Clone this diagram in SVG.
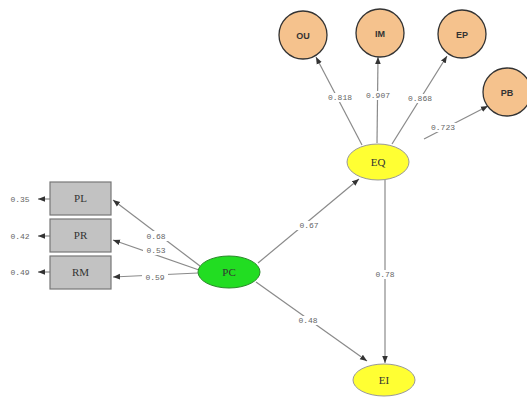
<svg xmlns="http://www.w3.org/2000/svg" width="527" height="397" viewBox="0 0 527 397">
<defs>
<marker id="ah" viewBox="0 0 10 10" refX="10" refY="5" markerWidth="7" markerHeight="7" markerUnits="userSpaceOnUse" orient="auto"><path d="M0,1 L10,5 L0,9 z" fill="#333"/></marker>
<style>
.c{stroke:#8a8a8a;stroke-width:1.2;fill:none;marker-end:url(#ah)}
.n{font-family:"Liberation Mono",monospace;font-size:8px;fill:#666;text-anchor:middle}
.lab{font-family:"Liberation Serif",serif;font-size:11px;fill:#333;text-anchor:middle}
.labs{font-family:"Liberation Sans",sans-serif;font-size:9px;fill:#333;text-anchor:middle;font-weight:bold}
.box{fill:#c2c2c2;stroke:#777;stroke-width:1.2}
.circ{fill:#f5c28d;stroke:#333;stroke-width:1.3}
.yel{fill:#ffff33;stroke:#999;stroke-width:1}
.grn{fill:#22dd22;stroke:#2a8a2a;stroke-width:1}
.bg{fill:#fff}
</style>
</defs>
<rect width="527" height="397" fill="#fff"/>
<g id="connectors">
<line class="c" x1="200" y1="266" x2="113" y2="200"/>
<line class="c" x1="199" y1="270" x2="113" y2="240"/>
<line class="c" x1="198" y1="273" x2="113" y2="277"/>
<line class="c" x1="50" y1="199" x2="38" y2="199"/>
<line class="c" x1="50" y1="236" x2="38" y2="236"/>
<line class="c" x1="50" y1="272" x2="38" y2="272"/>
<line class="c" x1="258" y1="263" x2="359" y2="179"/>
<line class="c" x1="256" y1="282" x2="367" y2="361"/>
<line class="c" x1="385" y1="180" x2="385" y2="363"/>
<line class="c" x1="362" y1="145" x2="316" y2="57"/>
<line class="c" x1="377" y1="143" x2="378" y2="57"/>
<line class="c" x1="392" y1="144" x2="447" y2="56"/>
<line class="c" x1="424" y1="139" x2="488" y2="106"/>
<text class="n" x="20" y="202">0.35</text>
<text class="n" x="20" y="239">0.42</text>
<text class="n" x="20" y="275">0.49</text>
<rect class="bg" x="143" y="231" width="26" height="10"/>
<text class="n" x="156" y="239">0.68</text>
<rect class="bg" x="143" y="246" width="26" height="9"/>
<text class="n" x="156" y="253">0.53</text>
<rect class="bg" x="142" y="273" width="26" height="9"/>
<text class="n" x="155" y="280">0.59</text>
<rect class="bg" x="296" y="221" width="26" height="9"/>
<text class="n" x="309" y="228">0.67</text>
<rect class="bg" x="295" y="316" width="26" height="9"/>
<text class="n" x="308" y="323">0.48</text>
<rect class="bg" x="372" y="270" width="26" height="9"/>
<text class="n" x="385" y="277">0.78</text>
<rect class="bg" x="325" y="93" width="30" height="9"/>
<text class="n" x="340" y="100">0.818</text>
<rect class="bg" x="363" y="91" width="30" height="9"/>
<text class="n" x="378" y="98">0.907</text>
<rect class="bg" x="405" y="94" width="30" height="9"/>
<text class="n" x="420" y="101">0.868</text>
<rect class="bg" x="428" y="123" width="30" height="9"/>
<text class="n" x="443" y="130">0.723</text>
</g>
<g id="PL"><rect class="box" x="50" y="182" width="61" height="33"/><text class="lab" x="80.5" y="202">PL</text></g>
<g id="PR"><rect class="box" x="50" y="219" width="61" height="33"/><text class="lab" x="80.5" y="239">PR</text></g>
<g id="RM"><rect class="box" x="50" y="256" width="61" height="33"/><text class="lab" x="80.5" y="276">RM</text></g>
<g id="PC"><ellipse class="grn" cx="229" cy="272" rx="31" ry="16"/><text class="lab" x="229" y="276">PC</text></g>
<g id="EQ"><ellipse class="yel" cx="378" cy="162" rx="31" ry="18"/><text class="lab" x="378" y="166">EQ</text></g>
<g id="EI"><ellipse class="yel" cx="384" cy="380" rx="31" ry="16"/><text class="lab" x="384" y="384">EI</text></g>
<g id="OU"><circle class="circ" cx="303" cy="35" r="24"/><text class="labs" x="303" y="39">OU</text></g>
<g id="IM"><circle class="circ" cx="380" cy="33" r="24"/><text class="labs" x="380" y="37">IM</text></g>
<g id="EP"><circle class="circ" cx="462" cy="34" r="24"/><text class="labs" x="462" y="38">EP</text></g>
<g id="PB"><circle class="circ" cx="507" cy="92" r="24"/><text class="labs" x="507" y="96">PB</text></g>
</svg>
